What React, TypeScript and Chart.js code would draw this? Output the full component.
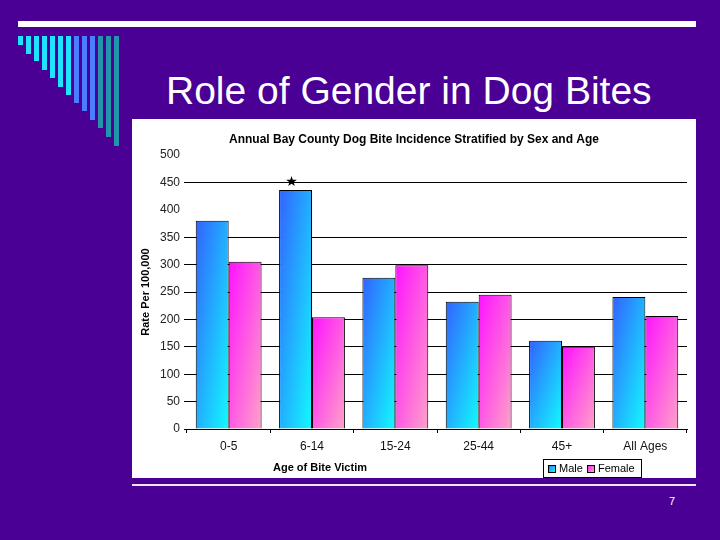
import React, { useEffect, useRef } from "react";
import { Chart, registerables } from "chart.js";

Chart.register(...registerables);

const slideTitle = "Role of Gender in Dog Bites";
const chartTitle = "Annual Bay County Dog Bite Incidence Stratified by Sex and Age";
const xAxisTitle = "Age of Bite Victim";
const yAxisTitle = "Rate Per 100,000";
const pageNumber = "7";

const categories = ["0-5", "6-14", "15-24", "25-44", "45+", "All Ages"];
const seriesNames = ["Male", "Female"];
const maleRates = [380, 436, 276, 232, 161, 241];
const femaleRates = [305, 204, 299, 245, 150, 206];
const yMin = 0;
const yMax = 500;
const yStep = 50;
const hiddenGridValues = [400, 500];
const starredCategory = "6-14";
const starredSeries = 0;

const FONT = "'Liberation Sans', Arial, sans-serif";
const CAT_PCT = 0.79;
const maleStops = ["#3262ff", "#12fbff"];
const femaleStops = ["#ff12ff", "#ffa2c8"];

const decoEnds = [45, 54, 61, 70, 78, 87, 95, 103, 111, 120, 128, 137, 146];
const decoColors = [
  "#1fe3ff", "#1fe3ff", "#1fe3ff", "#1fe3ff", "#1fe3ff", "#1fe3ff", "#1fe3ff",
  "#4c7cff", "#4c7cff", "#4c7cff",
  "#2196aa", "#2196aa", "#2196aa",
];

function diagGradient(ctx: CanvasRenderingContext2D, x0: number, y0: number, w: number, h: number, c0: string, c1: string) {
  const k = 1 / (w * w) + 1 / (h * h);
  const ex = x0 + 2 / w / k;
  const ey = y0 + 2 / h / k;
  const g = ctx.createLinearGradient(x0, y0, ex, ey);
  g.addColorStop(0, c0);
  g.addColorStop(1, c1);
  return g;
}

function barFill(stops: string[]) {
  return (c: any) => {
    const chart = c.chart;
    const xs = chart.scales && chart.scales.x;
    const ys = chart.scales && chart.scales.y;
    if (!xs || !ys || c.type !== "data" || typeof c.raw !== "number") return stops[0];
    const cat = (xs.right - xs.left) / categories.length;
    const bw = (cat * CAT_PCT) / 2;
    const cx = xs.getPixelForValue(c.dataIndex);
    const left = c.datasetIndex === 0 ? cx - bw : cx;
    const top = ys.getPixelForValue(c.raw);
    const bottom = ys.getPixelForValue(0);
    if (!isFinite(left) || !isFinite(top)) return stops[0];
    return diagGradient(chart.ctx, left, top, Math.max(1, bw), Math.max(1, bottom - top), stops[0], stops[1]);
  };
}

const textPlugin = {
  id: "slideText",
  afterDraw(chart: any) {
    const ctx: CanvasRenderingContext2D = chart.ctx;
    const w = chart.width;
    ctx.save();
    ctx.fillStyle = "#000";
    // chart title
    ctx.font = `bold 12px ${FONT}`;
    ctx.textAlign = "center";
    ctx.textBaseline = "middle";
    ctx.fillText(chartTitle, w / 2, 21);
    // y title
    ctx.font = `bold 11px ${FONT}`;
    ctx.save();
    ctx.translate(14, 173);
    ctx.rotate(-Math.PI / 2);
    ctx.fillText(yAxisTitle, 0, 0);
    ctx.restore();
    // x title
    ctx.fillText(xAxisTitle, 188, 349);
    // legend
    ctx.lineWidth = 1;
    ctx.strokeStyle = "#000";
    ctx.strokeRect(411.5, 340.5, 98, 18);
    const items = [
      { x: 416, stops: maleStops, label: seriesNames[0] },
      { x: 455, stops: femaleStops, label: seriesNames[1] },
    ];
    ctx.font = `11px ${FONT}`;
    ctx.textAlign = "left";
    for (const it of items) {
      ctx.fillStyle = diagGradient(ctx, it.x, 346, 7, 7, it.stops[0], it.stops[1]);
      ctx.fillRect(it.x, 346, 7, 7);
      ctx.strokeRect(it.x + 0.5, 346.5, 7, 7);
      ctx.fillStyle = "#000";
      ctx.fillText(it.label, it.x + 11, 350);
    }
    // star marker
    const meta = chart.getDatasetMeta(starredSeries);
    const idx = categories.indexOf(starredCategory);
    const el = meta && meta.data[idx];
    if (el) {
      ctx.font = `14px 'DejaVu Sans', sans-serif`;
      ctx.textAlign = "center";
      ctx.fillText("★", el.x - 4, el.y - 8);
    }
    ctx.restore();
  },
};

function BarChart() {
  const ref = useRef<HTMLCanvasElement | null>(null);
  useEffect(() => {
    if (!ref.current) return;
    const chart = new Chart(ref.current, {
      type: "bar",
      data: {
        labels: categories,
        datasets: [
          {
            label: seriesNames[0],
            data: maleRates,
            backgroundColor: barFill(maleStops) as any,
            borderColor: "#000",
            borderWidth: 1,
            categoryPercentage: CAT_PCT,
            barPercentage: 1,
          },
          {
            label: seriesNames[1],
            data: femaleRates,
            backgroundColor: barFill(femaleStops) as any,
            borderColor: "#000",
            borderWidth: 1,
            categoryPercentage: CAT_PCT,
            barPercentage: 1,
          },
        ],
      },
      options: {
        animation: false,
        responsive: false,
        maintainAspectRatio: false,
        layout: { padding: { top: 36, right: 9, left: 0, bottom: 0 } },
        plugins: { legend: { display: false }, title: { display: false }, tooltip: { enabled: false } },
        scales: {
          x: {
            grid: { offset: true, drawOnChartArea: false, drawTicks: true, tickLength: 4, color: "#000" },
            border: { display: true, color: "#000", width: 1 },
            ticks: { color: "#111", font: { family: FONT, size: 12 }, padding: 6, maxRotation: 0 },
            afterFit: (s: any) => {
              s.height = 49;
            },
          },
          y: {
            min: yMin,
            max: yMax,
            border: { display: false },
            grid: {
              drawTicks: true,
              tickLength: 3,
              lineWidth: 1,
              color: (c: any) => (c.tick && hiddenGridValues.includes(c.tick.value) ? "rgba(0,0,0,0)" : "#000"),
            },
            ticks: { stepSize: yStep, color: "#222", font: { family: FONT, size: 12 }, padding: 4 },
            afterFit: (s: any) => {
              s.width = 55;
            },
          },
        },
      },
      plugins: [textPlugin],
    });
    return () => chart.destroy();
  }, []);
  return <canvas ref={ref} width={564} height={359} style={{ display: "block", width: 564, height: 359 }} />;
}

export default function App() {
  useEffect(() => {
    document.body.style.margin = "0";
  }, []);
  return (
    <div style={{ position: "fixed", left: 0, top: 0, width: 720, height: 540, background: "#4a0094", overflow: "hidden", fontFamily: FONT }}>
      <div style={{ position: "absolute", left: 18, top: 21, width: 678, height: 6, background: "#fff" }} />
      {decoEnds.map((end, i) => (
        <div key={i} style={{ position: "absolute", left: 18 + i * 8, top: 36, width: 5, height: end - 36, background: decoColors[i] }} />
      ))}
      <div style={{ position: "absolute", left: 166, top: 71, fontSize: 39, lineHeight: "39px", color: "#fff", whiteSpace: "nowrap" }}>{slideTitle}</div>
      <div style={{ position: "absolute", left: 132, top: 119, width: 564, height: 359, background: "#fff" }}>
        <BarChart />
      </div>
      <div style={{ position: "absolute", left: 132, top: 484, width: 564, height: 2, background: "#f2e4f2" }} />
      <div style={{ position: "absolute", left: 669, top: 495, fontSize: 11, color: "#fff" }}>{pageNumber}</div>
    </div>
  );
}
